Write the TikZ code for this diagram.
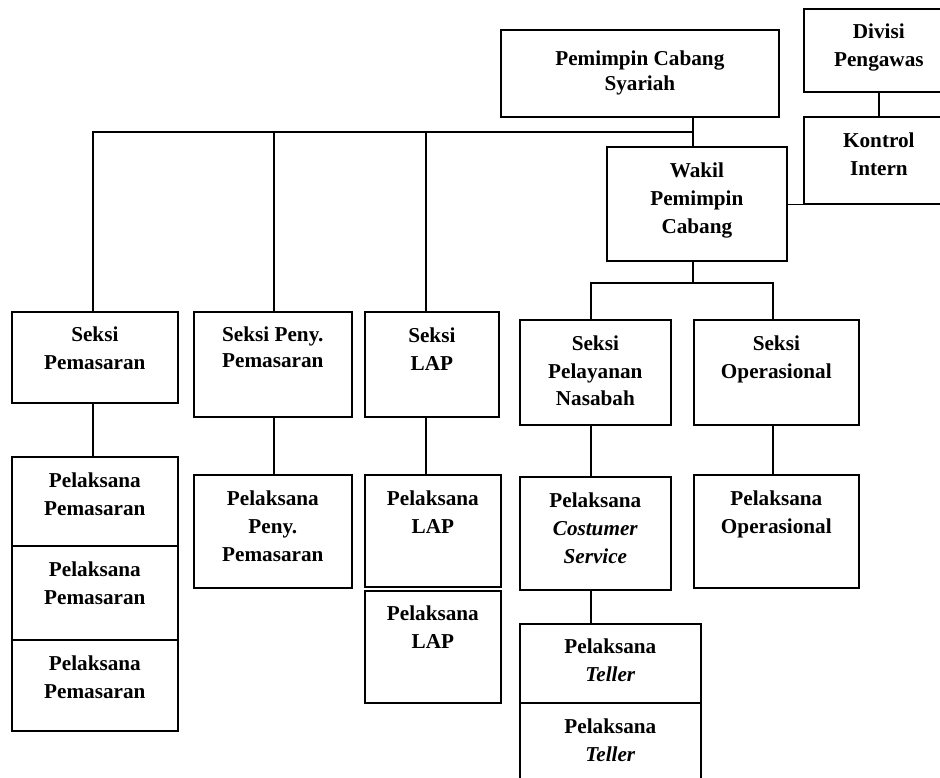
\documentclass[tikz,border=0pt]{standalone}
\usepackage{fontspec}
\setmainfont{Liberation Serif}
\newcommand{\obx}[4]{\parbox[c][#2pt][t]{#1pt}{\centering\rule{0pt}{#3pt}#4}}
\begin{document}
\begin{tikzpicture}[x=1pt,y=-1pt,
  orgbox/.style={draw,line width=1.7pt,inner sep=0pt,anchor=north west,
    font=\fontsize{21.2}{28}\selectfont\bfseries},
  conn/.style={line width=1.6pt}]
\useasboundingbox (0,0) rectangle (940,778);
\clip (0,0) rectangle (940,778);
% top
\node[orgbox] (pcs) at (500,29) {\obx{278}{87}{36}{Pemimpin Cabang\\[-3pt]Syariah}};
\node[orgbox] (div) at (803,8) {\obx{150}{83}{30}{Divisi\\Pengawas}};
\node[orgbox] (kon) at (803,116) {\obx{150}{87}{31}{Kontrol\\Intern}};
\node[orgbox] (wak) at (606,146) {\obx{180}{114}{31}{Wakil\\Pemimpin\\Cabang}};
% seksi row
\node[orgbox] (spm) at (11,311) {\obx{166}{91}{30}{Seksi\\Pemasaran}};
\node[orgbox] (spp) at (193,311) {\obx{158}{105}{30}{Seksi Peny.\\[-2pt]Pemasaran}};
\node[orgbox] (slap) at (364,311) {\obx{134}{105}{31}{Seksi\\LAP}};
\node[orgbox] (spn) at (519,319) {\obx{151}{105}{31}{Seksi\\Pelayanan\\[-1pt]Nasabah}};
\node[orgbox] (sop) at (693,319) {\obx{165}{105}{31}{Seksi\\Operasional}};
% pelaksana
\node[orgbox] (pp1) at (11,456) {\obx{166}{89}{31}{Pelaksana\\Pemasaran}};
\node[orgbox] (pp2) at (11,545) {\obx{166}{94}{31}{Pelaksana\\Pemasaran}};
\node[orgbox] (pp3) at (11,639) {\obx{166}{91}{31}{Pelaksana\\Pemasaran}};
\node[orgbox] (ppp) at (193,474) {\obx{158}{113}{31}{Pelaksana\\Peny.\\Pemasaran}};
\node[orgbox] (pl1) at (364,474) {\obx{136}{112}{31}{Pelaksana\\LAP}};
\node[orgbox] (pl2) at (364,590) {\obx{136}{112}{30}{Pelaksana\\LAP}};
\node[orgbox] (pcsv) at (519,476) {\obx{151}{113}{31}{Pelaksana\\\textit{Costumer}\\\textit{Service}}};
\node[orgbox] (pop) at (693,474) {\obx{165}{113}{31}{Pelaksana\\Operasional}};
\node[orgbox] (pt1) at (519,623) {\obx{181}{79}{30}{Pelaksana\\\textit{Teller}}};
\node[orgbox] (pt2) at (519,702) {\obx{181}{90}{31}{Pelaksana\\\textit{Teller}}};
% connectors
\coordinate (bus) at (693,132);
\coordinate (d1) at (93,132);
\coordinate (d2) at (274,132);
\coordinate (d3) at (426,132);
\draw[conn] (pcs.south -| bus) -- (wak.north -| bus);
\draw[conn] (bus) -- (d1) -- (d1 |- spm.north);
\draw[conn] (d2) -- (d2 |- spp.north);
\draw[conn] (d3) -- (d3 |- slap.north);
\draw[conn] (wak.east |- kon.south) -- (kon.south west);
\draw[conn] (div.south -| 879,0) -- (kon.north -| 879,0);
\coordinate (wb) at (693,283);
\coordinate (wl) at (591,283);
\coordinate (wr) at (773,283);
\draw[conn] (wak.south -| wb) -- (wb);
\draw[conn] (wl |- spn.north) -- (wl) -- (wr) -- (wr |- sop.north);
\draw[conn] (spm.south -| d1) -- (pp1.north -| d1);
\draw[conn] (spp.south -| d2) -- (ppp.north -| d2);
\draw[conn] (slap.south -| d3) -- (pl1.north -| d3);
\draw[conn] (spn.south -| wl) -- (pcsv.north -| wl);
\draw[conn] (sop.south -| wr) -- (pop.north -| wr);
\draw[conn] (pcsv.south -| wl) -- (pt1.north -| wl);
\end{tikzpicture}
\end{document}
